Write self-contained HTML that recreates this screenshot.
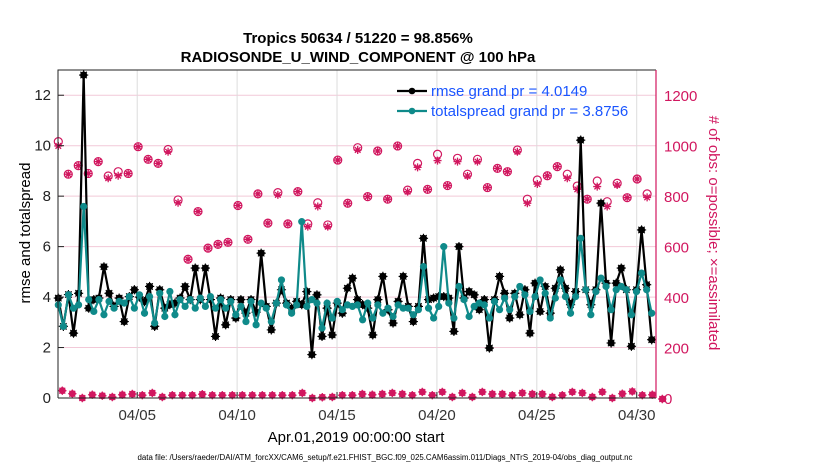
<!DOCTYPE html>
<html><head><meta charset="utf-8">
<style>
html,body{margin:0;padding:0;background:#fff;}
svg{display:block;font-family:"Liberation Sans",sans-serif;}
</style></head>
<body>
<svg id="chart" width="830" height="470" viewBox="0 0 830 470" xmlns="http://www.w3.org/2000/svg">
<g id="grid"></g>
<g id="obs"></g>
<g id="series"></g>
<g id="axes"></g>
<text x="358" y="43" text-anchor="middle" font-size="15" font-weight="bold">Tropics 50634 / 51220 = 98.856%</text>
<text x="358" y="62" text-anchor="middle" font-size="15" font-weight="bold">RADIOSONDE_U_WIND_COMPONENT @ 100 hPa</text>
<text transform="translate(30,233) rotate(-90)" text-anchor="middle" font-size="15">rmse and totalspread</text>
<text transform="translate(709,233) rotate(90)" text-anchor="middle" font-size="15" fill="#d1175f"># of obs: o=possible; ×=assimilated</text>
<text x="356" y="442" text-anchor="middle" font-size="15">Apr.01,2019 00:00:00 start</text>
<text x="385" y="460" text-anchor="middle" font-size="7.9">data file: /Users/raeder/DAI/ATM_forcXX/CAM6_setup/f.e21.FHIST_BGC.f09_025.CAM6assim.011/Diags_NTrS_2019-04/obs_diag_output.nc</text>
<g id="legend"></g>
</svg>
<script>
const rmse = [3.96,2.84,4.1,2.57,4.15,12.8,3.56,3.9,3.96,5.2,4.15,3.63,3.96,3.03,4.02,4.29,4.0,3.82,4.42,2.84,4.29,3.56,3.7,3.76,3.96,4.42,3.9,5.15,3.9,5.15,3.9,2.44,3.96,2.9,3.9,3.17,3.9,3.36,3.9,3.4,
5.74,3.63,2.7,3.76,4.29,3.76,3.56,3.83,3.7,4.22,1.72,4.09,2.44,3.56,2.5,3.76,3.36,4.35,4.75,3.9,3.7,3.56,2.5,3.9,4.82,3.5,2.97,3.83,4.82,3.63,3.03,3.63,6.33,3.9,3.96,4.02,4.02,3.96,2.64,
6.0,3.96,4.22,4.09,3.5,3.9,1.98,3.9,4.82,4.15,3.17,4.15,3.3,4.29,2.57,4.55,3.43,4.42,3.36,4.35,5.08,4.35,3.7,4.22,10.22,4.29,3.7,4.29,7.72,4.55,2.18,4.55,5.15,4.29,2.05,4.29,6.66,4.49,2.31];
const spread = [3.69,2.84,4.09,3.56,3.69,7.59,3.9,3.43,3.9,3.3,3.83,3.56,3.83,3.76,4.02,3.56,4.09,3.36,4.02,2.97,4.15,3.23,4.22,3.3,3.9,3.63,3.9,3.56,3.96,3.63,4.02,3.56,3.9,3.56,3.83,3.3,3.63,3.03,3.83,2.9,
3.76,3.56,3.03,3.76,4.68,3.69,3.36,3.69,6.99,3.63,3.9,3.76,2.77,3.76,3.17,3.83,3.5,3.69,3.63,3.69,3.1,3.76,3.17,3.69,3.36,3.56,3.23,3.69,3.56,3.56,3.3,3.5,5.21,3.56,3.17,3.63,6.0,3.76,3.17,
4.42,3.9,3.23,3.63,3.76,3.69,3.17,3.83,3.5,3.96,3.5,4.02,4.42,4.09,3.43,4.02,4.68,4.15,3.17,3.96,4.68,4.02,3.36,4.02,6.33,4.29,3.3,4.22,4.75,4.42,3.5,4.29,4.42,4.29,3.3,4.22,4.95,4.29,3.36];
const possible = [1016,887,921,890,937,880,897,890,996,946,930,985,785,550,739,594,609,617,763,629,809,693,814,690,818,690,774,686,943,772,992,798,979,788,999,824,930,827,966,842,950,887,946,834,910,897,983,788,864,881,917,887,840,788,860,778,851,794,868,809];
const assimilated = [999,887,921,890,937,871,881,890,996,946,930,976,774,550,739,594,609,617,763,629,809,693,805,690,818,679,759,679,943,772,983,798,979,788,999,818,914,827,941,842,937,880,937,834,910,897,976,772,848,881,917,871,827,788,838,759,844,794,868,795];
const lowObs = [29,17,0,13,9,4,13,16,11,20,4,11,11,11,15,11,11,11,11,11,11,11,11,11,20,0,3,4,11,11,16,13,16,20,16,11,24,11,24,4,20,4,24,16,16,11,20,16,16,4,11,24,20,4,24,0,17,26,11,13,-4];
const leftTicks = [0,2,4,6,8,10,12];
const rightTicks = [0,200,400,600,800,1000,1200];
const dateTicks = ["04/05","04/10","04/15","04/20","04/25","04/30"];
const dateTickDays = [4,9,14,19,24,29];
const legendLabels = ["rmse grand pr = 4.0149","totalspread grand pr = 3.8756"];

const NS="http://www.w3.org/2000/svg";
const L=58,R=656,T=70,B=398;
const PINK="#d1175f", TEAL="#0f8a8a";
const yL=v=>B-(v/13)*(B-T);
const yR=v=>B-(v/1300)*(B-T);
const xDay=d=>57.3+d*19.98;
const xSer=i=>58.3+i*(593.4/(rmse.length-1));
const xObs=j=>58.3+j*9.98;
const xLow=j=>62.3+j*10;
function mk(tag,attrs,parent){const e=document.createElementNS(NS,tag);for(const k in attrs)e.setAttribute(k,attrs[k]);parent.appendChild(e);return e;}
const grid=document.getElementById('grid'),axes=document.getElementById('axes'),series=document.getElementById('series'),obs=document.getElementById('obs'),legend=document.getElementById('legend');

rightTicks.forEach(v=>{
  const g=mk('line',{x1:L,x2:R,y1:yR(v),y2:yR(v),stroke:'#f2c9d8','stroke-width':1},grid);
  
  
});
dateTickDays.forEach((d,k)=>{
  const g=mk('line',{x1:xDay(d),x2:xDay(d),y1:T,y2:B,stroke:'#dcdcdc','stroke-width':1},grid);
  
  
  const tk=mk('line',{x1:xDay(d),x2:xDay(d),y1:B,y2:B-6,stroke:'#222'},axes);
  
  
  const t=mk('text',{x:xDay(d),y:B+22,'text-anchor':'middle','font-size':15,fill:'#333'},axes);
  t.textContent=dateTicks[k];
  
  
});
leftTicks.forEach(v=>{
  const t=mk('text',{x:L-7,y:yL(v)+5,'text-anchor':'end','font-size':15,fill:'#222'},axes);
  t.textContent=v;
  
  
  const tk=mk('line',{x1:L,x2:L+6,y1:yL(v),y2:yL(v),stroke:'#222'},axes);
  
  
});
rightTicks.forEach(v=>{
  const t=mk('text',{x:R+8,y:yR(v)+6,'text-anchor':'start','font-size':15,fill:PINK},axes);
  t.textContent=v;
  
  
});
const ax1=mk('path',{d:`M${L},${B}L${L},${T}L${R},${T}M${L},${B}L${R},${B}`,stroke:'#222',fill:'none','stroke-width':1},axes);


const ax2=mk('line',{x1:R,x2:R,y1:T,y2:B,stroke:PINK,'stroke-width':1.2},axes);



function star(cx,cy,s,col,w,parent){
  const d=`M${cx-s},${cy}L${cx+s},${cy}M${cx},${cy-s}L${cx},${cy+s}M${cx-s*0.7},${cy-s*0.7}L${cx+s*0.7},${cy+s*0.7}M${cx-s*0.7},${cy+s*0.7}L${cx+s*0.7},${cy-s*0.7}`;
  return mk('path',{d:d,stroke:col,'stroke-width':w,fill:'none'},parent);
}
possible.forEach((v,j)=>{
  const c=mk('circle',{cx:xObs(j),cy:yR(v),r:4,fill:'none',stroke:PINK,'stroke-width':1.2},obs);
  
  
});
assimilated.forEach((v,j)=>{
  const s=star(xObs(j),yR(v),4,PINK,1.3,obs);
  
  
});
lowObs.forEach((v,j)=>{
  const c=mk('circle',{cx:xLow(j),cy:yR(v),r:3.5,fill:PINK},obs);
  
  
  const s=star(xLow(j),yR(v),4.2,PINK,1.2,obs);
  
  
});

const rl=mk('polyline',{points:rmse.map((v,i)=>xSer(i)+','+yL(v)).join(' '),fill:'none',stroke:'#000','stroke-width':2.2},series);


rmse.forEach((v,i)=>{
  const c=mk('circle',{cx:xSer(i),cy:yL(v),r:3.6,fill:'#000'},series);
  
  
  const s=star(xSer(i),yL(v),4.6,'#000',1.1,series);
  
  
});
const sl=mk('polyline',{points:spread.map((v,i)=>xSer(i)+','+yL(v)).join(' '),fill:'none',stroke:TEAL,'stroke-width':2.2},series);


spread.forEach((v,i)=>{
  const c=mk('circle',{cx:xSer(i),cy:yL(v),r:3.6,fill:TEAL},series);
  
  
});

[['#000',true],[TEAL,false]].forEach((e,k)=>{
  const y=91+k*20;
  const ln=mk('line',{x1:397,x2:427,y1:y,y2:y,stroke:e[0],'stroke-width':2.2},legend);
  
  
  const c=mk('circle',{cx:412,cy:y,r:3.3,fill:e[0]},legend);
  
  
  const t=mk('text',{x:431,y:y+5,'font-size':15,fill:'#1a55ff'},legend);
  t.textContent=legendLabels[k];
  
  
});
</script>
</body></html>
